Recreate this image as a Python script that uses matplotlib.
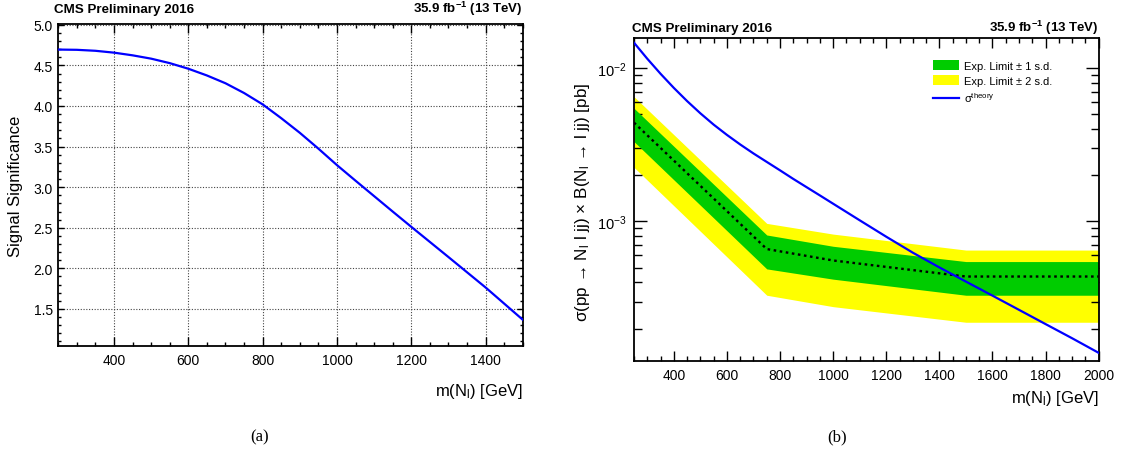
import matplotlib
matplotlib.use('Agg')
import matplotlib.pyplot as plt
from matplotlib.ticker import MultipleLocator, LogLocator, NullFormatter, FormatStrFormatter
from matplotlib.patches import Patch
from matplotlib.lines import Line2D

plt.rcParams['font.family'] = ['Liberation Sans', 'DejaVu Sans']
plt.rcParams['mathtext.fontset'] = 'custom'
plt.rcParams['mathtext.rm'] = 'Liberation Sans'
plt.rcParams['mathtext.it'] = 'Liberation Sans:italic'
plt.rcParams['mathtext.bf'] = 'Liberation Sans:bold'

# ---------------- data ----------------
# (a) signal significance vs heavy neutrino mass
sig_mass = [250, 300, 350, 400, 450, 500, 550, 600, 650, 700, 750, 800, 850, 900, 950,
            1000, 1050, 1100, 1150, 1200, 1300, 1400, 1500]
sig_value = [4.695, 4.692, 4.680, 4.657, 4.624, 4.583, 4.528, 4.459, 4.376, 4.280, 4.160, 4.020,
             3.850, 3.670, 3.475, 3.272, 3.080, 2.890, 2.700, 2.512, 2.140, 1.765, 1.368]

# (b) expected limits and theory cross section
lim_mass = [250, 750, 1000, 1500, 2000]
exp_median = [4.40e-3, 6.60e-4, 5.56e-4, 4.37e-4, 4.37e-4]
exp_up1 = [5.46e-3, 8.15e-4, 6.88e-4, 5.47e-4, 5.47e-4]
exp_dn1 = [3.31e-3, 4.90e-4, 4.20e-4, 3.30e-4, 3.30e-4]
exp_up2 = [6.50e-3, 9.70e-4, 8.26e-4, 6.50e-4, 6.50e-4]
exp_dn2 = [2.25e-3, 3.30e-4, 2.78e-4, 2.20e-4, 2.20e-4]

th_mass = [250, 300, 350, 400, 450, 500, 550, 600, 650, 700, 750, 800, 850, 900, 950, 1000,
           1100, 1200, 1300, 1400, 1500, 1600, 1700, 1800, 1900, 2000]
th_xsec = [1.46e-2, 1.148e-2, 9.16e-3, 7.41e-3, 6.08e-3, 5.06e-3, 4.27e-3, 3.66e-3, 3.17e-3,
           2.77e-3, 2.44e-3, 2.15e-3, 1.89e-3, 1.67e-3, 1.476e-3, 1.303e-3, 1.016e-3, 7.94e-4,
           6.25e-4, 5.01e-4, 4.05e-4, 3.28e-4, 2.65e-4, 2.14e-4, 1.73e-4, 1.39e-4]

legend_labels = ['Exp. Limit \u00b1 1 s.d.', 'Exp. Limit \u00b1 2 s.d.', '\u03c3$^{\\mathregular{theory}}$']

# ---------------- figure ----------------
W, H = 1130, 452
fig = plt.figure(figsize=(W / 100, H / 100), dpi=100)


def fx(x):
    return x / W


def fy(y):
    return 1 - y / H


ax1 = fig.add_axes([fx(58.3), fy(347.3), (522.7 - 58.3) / W, (347.3 - 25) / H])
ax2 = fig.add_axes([fx(634), fy(362), (1098.7 - 634) / W, (362 - 39.3) / H])

for ax in (ax1, ax2):
    for s in ax.spines.values():
        s.set_linewidth(1.3)
    ax.tick_params(which='both', direction='in', top=True, right=True,
                   labelsize=10, colors='black', width=1)

# ---- panel (a) ----
ax1.plot(sig_mass, sig_value, color='#0000ff', lw=1.6, zorder=3)
ax1.set_xlim(250, 1500)
ax1.set_ylim(1.04, 5.01)
ax1.xaxis.set_major_locator(MultipleLocator(200))
ax1.xaxis.set_minor_locator(MultipleLocator(50))
ax1.yaxis.set_major_locator(MultipleLocator(0.5))
ax1.yaxis.set_minor_locator(MultipleLocator(0.1))
ax1.yaxis.set_major_formatter(FormatStrFormatter('%.1f'))
ax1.tick_params(axis='x', which='major', length=6.5, pad=5)
ax1.tick_params(axis='x', which='minor', length=3.0)
ax1.tick_params(axis='y', which='major', length=4.5, pad=4)
ax1.tick_params(axis='y', which='minor', length=2.4)
ax1.grid(True, which='major', color='#444444', lw=0.8, ls=(0, (1, 1.5)), zorder=1)

fig.text(fx(15.5), fy(186), 'Signal Significance', rotation=90, ha='center', va='center', fontsize=12)
fig.text(fx(522.7), fy(396), 'm(N$_{\\mathregular{l}}$) [GeV]', ha='right', va='baseline', fontsize=12)
fig.text(fx(54.3), fy(13.5), 'CMS Preliminary 2016', ha='left', va='baseline', fontsize=9.6, fontweight='bold')
fig.text(fx(522.7), fy(13.5), '35.9 fb$^{\\mathbf{-1}}$ (13 TeV)', ha='right', va='baseline',
         fontsize=9.5, fontweight='bold')

# ---- panel (b) ----
ax2.fill_between(lim_mass, exp_dn2, exp_up2, color='#ffff00', lw=0, zorder=1)
ax2.fill_between(lim_mass, exp_dn1, exp_up1, color='#00cc00', lw=0, zorder=2)
ax2.plot(lim_mass, exp_median, color='black', lw=1.7, ls=(0, (1.1, 1.5)), zorder=3)
ax2.plot(th_mass, th_xsec, color='#0000ff', lw=1.6, zorder=4)
ax2.set_yscale('log')
ax2.set_xlim(250, 2000)
ax2.set_ylim(1.23e-4, 1.56e-2)
ax2.xaxis.set_major_locator(MultipleLocator(200))
ax2.xaxis.set_minor_locator(MultipleLocator(50))
ax2.yaxis.set_major_locator(LogLocator(base=10, numticks=10))
ax2.yaxis.set_minor_locator(LogLocator(base=10, subs=range(2, 10), numticks=20))
ax2.yaxis.set_minor_formatter(NullFormatter())
ax2.tick_params(axis='x', which='major', length=7.2, pad=5)
ax2.tick_params(axis='x', which='minor', length=3.6)
ax2.tick_params(axis='y', which='major', length=9.4, pad=5, labelsize=10.5)
ax2.tick_params(axis='y', which='minor', length=5.5)

handles = [Patch(facecolor='#00cc00', edgecolor='none'),
           Patch(facecolor='#ffff00', edgecolor='none'),
           Line2D([0], [0], color='#0000ff', lw=1.6)]
ax2.legend(handles, legend_labels, loc='upper left', bbox_to_anchor=(fx(932.7), fy(61)),
           bbox_transform=fig.transFigure, frameon=False, fontsize=8, borderpad=0,
           handlelength=2.35, handleheight=0.95, handletextpad=0.45, labelspacing=0.4,
           borderaxespad=0)

fig.text(fx(582), fy(202), '\u03c3(pp \u2192 N$_{\\mathregular{l}}$ l jj) \u00d7 B(N$_{\\mathregular{l}}$ \u2192 l jj) [pb]',
         rotation=90, ha='center', va='center', fontsize=12.3)
fig.text(fx(1098.7), fy(402.7), 'm(N$_{\\mathregular{l}}$) [GeV]', ha='right', va='baseline', fontsize=12)
fig.text(fx(631.7), fy(31.7), 'CMS Preliminary 2016', ha='left', va='baseline', fontsize=9.6, fontweight='bold')
fig.text(fx(1098.7), fy(31.7), '35.9 fb$^{\\mathbf{-1}}$ (13 TeV)', ha='right', va='baseline',
         fontsize=9.5, fontweight='bold')

# captions
fig.text(fx(260), fy(437), '(a)', ha='center', va='center', fontsize=12, family='Liberation Serif')
fig.text(fx(837), fy(437), '(b)', ha='center', va='center', fontsize=12, family='Liberation Serif')

fig.savefig('out.png', dpi=100)
